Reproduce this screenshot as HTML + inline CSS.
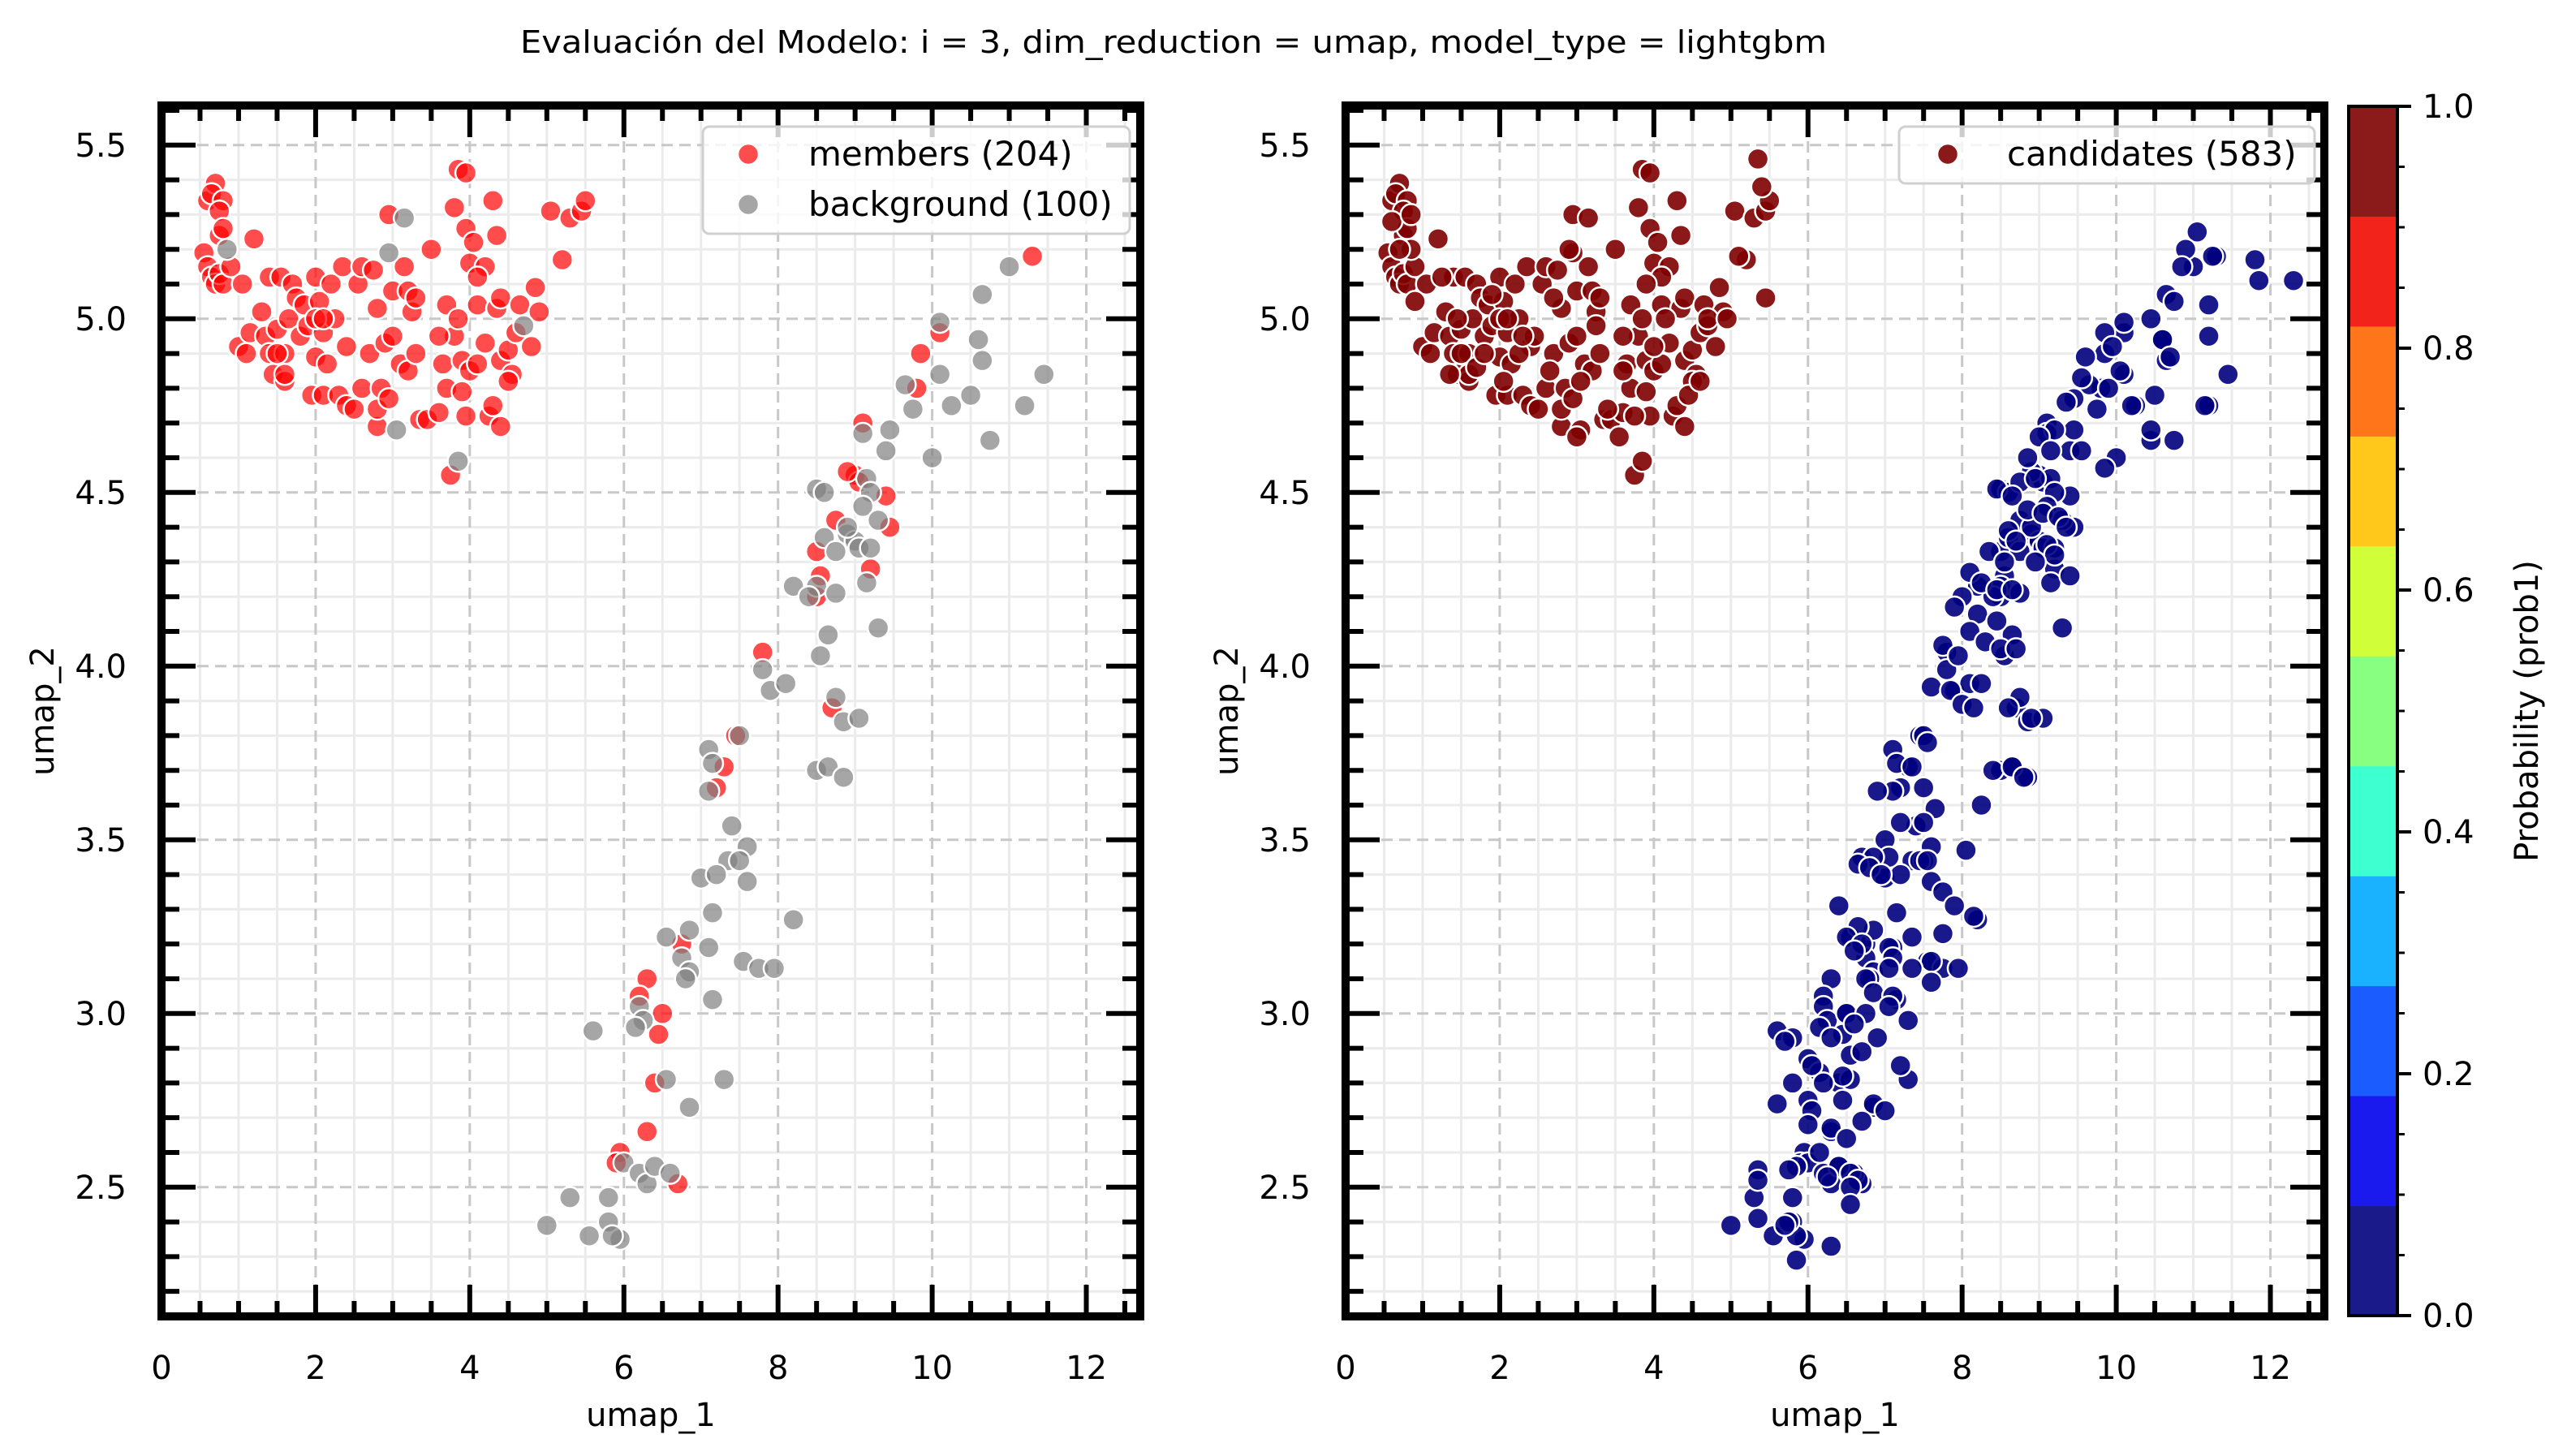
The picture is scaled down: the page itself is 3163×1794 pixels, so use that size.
<!DOCTYPE html>
<html><head><meta charset="utf-8">
<style>
html,body{margin:0;padding:0;background:#fff;}
svg{display:block;font-family:"DejaVu Sans","Liberation Sans",sans-serif;}
</style></head>
<body>
<svg id="fig" width="3163" height="1794" viewBox="0 0 3163 1794" xmlns="http://www.w3.org/2000/svg">
<rect width="3163" height="1794" fill="#fff"/>
<text x="1446" y="65" font-size="38" text-anchor="middle" textLength="1610" lengthAdjust="spacingAndGlyphs">Evaluación del Modelo: i = 3, dim_reduction = umap, model_type = lightgbm</text>
<g id="left"></g>
<g id="right"></g>
<g id="cbar"></g>
</svg>
<script>
// ---- data ----
const membersX = [0.55,0.6,0.7,0.65,0.8,0.75,0.6,0.65,0.7,0.75,0.8,0.75,0.8,0.9,1.0,1.05,1.2,1.15,1.1,1.3,1.35,1.4,1.4,1.45,1.5,1.55,1.6,1.6,1.65,1.7,1.75,1.8,1.85,1.9,1.95,2.0,2.0,2.05,2.1,2.1,2.15,2.2,2.25,2.3,2.35,2.4,2.4,2.5,2.55,2.6,2.6,2.7,2.75,2.8,2.8,2.8,2.85,2.9,2.95,2.95,3.0,3.0,3.1,3.15,3.2,3.2,3.25,3.3,3.3,3.35,3.45,3.5,3.6,3.65,3.7,3.7,3.75,3.8,3.8,3.85,3.85,3.9,3.9,3.95,3.95,4.0,4.0,4.05,4.1,4.1,4.2,4.2,4.25,4.3,4.3,4.35,4.35,4.4,4.4,4.4,4.5,4.55,4.6,4.65,4.8,4.85,4.9,5.05,5.2,5.3,5.45,5.5,3.95,4.1,2.0,2.1,1.5,1.6,3.6,4.5,
11.3,10.1,9.85,9.8,9.1,9.0,9.05,8.9,9.4,9.45,9.2,8.75,8.5,8.5,8.55,8.7,7.8,7.45,7.3,7.2,6.75,6.3,6.2,6.5,6.45,6.4,6.3,5.95,5.9,6.7];
const membersY = [5.19,5.34,5.39,5.36,5.34,5.31,5.15,5.12,5.1,5.13,5.1,5.24,5.26,5.15,4.92,5.1,5.23,4.96,4.9,5.02,4.95,4.9,5.12,4.84,4.97,5.12,4.82,4.9,5.0,5.1,5.06,4.95,5.04,4.98,4.78,5.12,4.89,5.05,4.78,4.96,4.87,5.1,5.0,4.78,5.15,4.75,4.92,4.74,5.1,5.15,4.8,4.9,5.14,4.69,4.74,5.03,4.8,4.93,5.3,4.77,5.08,4.95,4.87,5.15,5.08,4.85,5.02,4.9,5.06,4.71,4.71,5.2,4.73,4.87,5.04,4.8,4.55,4.95,5.32,5.0,5.43,4.88,4.79,5.26,4.72,4.85,5.16,5.22,5.04,4.87,4.93,5.15,4.72,5.34,4.75,5.03,5.24,5.06,4.69,4.88,4.91,4.84,4.96,5.04,4.92,5.09,5.02,5.31,5.17,5.29,5.31,5.34,5.42,5.12,5.0,5.0,4.9,4.84,4.95,4.82,
5.18,4.96,4.9,4.8,4.7,4.55,4.53,4.56,4.49,4.4,4.28,4.42,4.33,4.2,4.26,3.88,4.04,3.8,3.71,3.65,3.2,3.1,3.05,3.0,2.94,2.8,2.66,2.6,2.57,2.51];
const backgroundX = [0.85,2.95,3.15,3.05,3.85,4.7,11.0,10.65,10.1,10.6,10.1,10.65,9.65,9.75,10.25,10.5,11.2,11.45,10.75,10.0,9.1,9.45,9.4,8.5,8.6,9.15,9.2,9.1,9.3,8.6,8.9,9.0,9.05,9.2,8.75,8.9,8.5,8.2,8.4,9.15,8.75,9.3,8.65,8.55,7.8,7.9,8.1,8.75,8.85,9.05,8.5,8.65,8.85,7.5,7.1,7.15,7.1,7.4,7.6,7.35,7.5,7.6,7.0,7.2,7.15,8.2,7.1,6.55,6.85,6.75,6.85,7.55,7.75,7.95,6.8,7.15,6.2,6.25,6.15,5.6,6.55,7.3,6.85,6.0,6.2,6.3,6.4,6.6,5.3,5.8,5.0,5.55,5.8,5.95,5.85];
const backgroundY = [5.2,5.19,5.29,4.68,4.59,4.98,5.15,5.07,4.99,4.94,4.84,4.88,4.81,4.74,4.75,4.78,4.75,4.84,4.65,4.6,4.67,4.68,4.62,4.51,4.5,4.54,4.5,4.46,4.42,4.37,4.38,4.36,4.34,4.34,4.33,4.4,4.23,4.23,4.2,4.24,4.21,4.11,4.09,4.03,3.99,3.93,3.95,3.91,3.84,3.85,3.7,3.71,3.68,3.8,3.76,3.72,3.64,3.54,3.48,3.44,3.44,3.38,3.39,3.4,3.29,3.27,3.19,3.22,3.24,3.16,3.12,3.15,3.13,3.13,3.1,3.04,3.02,2.98,2.96,2.95,2.81,2.81,2.73,2.57,2.54,2.51,2.56,2.54,2.47,2.47,2.39,2.36,2.4,2.35,2.36];
const extraHighX = [0.6,0.7,0.85,1.25,1.45,1.7,1.9,2.05,2.25,2.45,2.65,2.9,3.05,3.25,3.4,3.55,3.75,3.9,4.15,4.45,4.7,4.95,5.1,5.35,5.45,0.9,1.8,2.7,3.6,4.6,2.3,3.0,5.4,4.0,1.35];
const extraHighY = [5.28,5.2,5.3,5.12,5.0,4.86,5.07,4.82,4.9,4.95,4.85,5.2,4.82,4.98,4.74,4.66,4.72,5.1,5.0,4.78,5.0,5.0,5.18,5.46,5.06,5.05,4.9,5.06,4.85,4.82,4.95,4.66,5.38,4.92,4.84];
const extraLowX = [11.05,10.9,11.25,11.8,11.85,12.3,10.85,11.2,10.75,11.2,10.6,10.7,10.45,9.85,9.95,10.05,9.9,9.6,9.55,9.45,9.35,10.2,11.15,10.45,10.45,9.85,9.55,9.2,9.0,9.15,8.85,8.75,8.95,8.45,8.65,8.85,9.05,9.25,9.35,8.6,8.7,9.1,9.2,8.35,8.55,8.95,9.4,8.1,8.25,8.45,8.65,8.0,8.2,8.45,7.9,8.1,8.3,8.5,8.7,7.75,7.95,7.6,7.85,8.25,8.0,8.15,8.6,8.9,7.55,7.35,8.4,8.65,8.8,6.9,7.5,8.25,7.65,7.2,7.5,7.0,7.05,6.7,6.85,7.45,7.55,8.05,6.65,6.8,6.95,7.75,6.4,7.9,8.15,6.65,6.5,6.7,7.75,7.35,6.6,7.05,7.1,7.6,7.35,7.05,6.75,7.6,6.85,7.1,6.5,6.75,7.05,6.6,7.3,5.8,5.7,6.0,6.3,6.55,6.9,6.15,6.7,6.05,6.45,7.2,5.8,6.2,6.45,6.85,7.0,5.6,6.0,6.05,6.0,6.7,6.3,6.5,6.15,5.85,5.75,6.4,6.55,6.65,6.25,6.55,5.35,5.35,6.55,5.35,5.75,5.7,6.3,5.85];
const extraLowY = [5.25,5.2,5.18,5.17,5.11,5.11,5.15,5.04,5.05,4.95,4.94,4.89,5.0,4.96,4.92,4.85,4.8,4.89,4.83,4.77,4.76,4.75,4.75,4.65,4.68,4.57,4.62,4.68,4.66,4.62,4.6,4.53,4.54,4.51,4.49,4.45,4.44,4.43,4.4,4.39,4.36,4.35,4.32,4.33,4.3,4.3,4.26,4.27,4.24,4.22,4.22,4.2,4.15,4.13,4.17,4.1,4.07,4.05,4.05,4.06,4.03,3.94,3.93,3.95,3.89,3.88,3.88,3.85,3.78,3.71,3.7,3.71,3.68,3.64,3.65,3.6,3.59,3.55,3.55,3.5,3.45,3.45,3.45,3.44,3.44,3.47,3.43,3.42,3.4,3.35,3.31,3.31,3.28,3.25,3.22,3.2,3.23,3.22,3.18,3.19,3.16,3.15,3.13,3.13,3.1,3.09,3.06,3.05,3.0,3.0,3.02,2.97,2.98,2.93,2.92,2.87,2.93,2.88,2.93,2.83,2.89,2.85,2.82,2.85,2.8,2.8,2.75,2.74,2.72,2.74,2.75,2.72,2.68,2.69,2.67,2.64,2.6,2.56,2.55,2.56,2.54,2.52,2.53,2.5,2.55,2.52,2.45,2.41,2.4,2.39,2.33,2.29];
const xTicks = [0,2,4,6,8,10,12];
const yTicks = [2.5,3.0,3.5,4.0,4.5,5.0,5.5];
const yTickLabels = ["2.5","3.0","3.5","4.0","4.5","5.0","5.5"];
const cbarTicks = [0,0.2,0.4,0.6,0.8,1.0];
const cbarTickLabels = ["0.0","0.2","0.4","0.6","0.8","1.0"];
const cbarColors = ["#1a1a8a","#1a1aee","#1a5cff","#1ab2ff","#3dffd0","#88ff80","#d0ff3a","#ffc81a","#ff7519","#f2231a","#8b1a1a"];

// ---- layout ----
const NS = "http://www.w3.org/2000/svg";
const XMIN = 0, XMAX = 12.7, YMIN = 2.128, YMAX = 5.614;
const TOP = 130, BOT = 1622;
const MR = 13;
const TFS = 40;
function mk(tag, attrs, parent){ const e=document.createElementNS(NS,tag); for(const k in attrs) e.setAttribute(k,attrs[k]); parent.appendChild(e); return e; }

function drawAxes(g, L, R){
  const sx = v => L + (v-XMIN)/(XMAX-XMIN)*(R-L);
  const sy = v => BOT - (v-YMIN)/(YMAX-YMIN)*(BOT-TOP);
  const grid = mk('g',{},g);
  
  
  for(let v=0.5; v<XMAX; v+=0.5){ if(Math.abs(v/2-Math.round(v/2))>1e-6) mk('line',{x1:sx(v),x2:sx(v),y1:TOP,y2:BOT,stroke:'#ebebeb','stroke-width':3},grid); }
  for(let i=22;i<=56;i++){ const v=i/10; if(i%5!==0) mk('line',{x1:L,x2:R,y1:sy(v),y2:sy(v),stroke:'#ebebeb','stroke-width':3},grid); }
  xTicks.forEach(v=>{ if(v>0) mk('line',{x1:sx(v),x2:sx(v),y1:TOP,y2:BOT,stroke:'#c8c8c8','stroke-width':3,'stroke-dasharray':'14 8'},grid); });
  yTicks.forEach(v=>mk('line',{x1:L,x2:R,y1:sy(v),y2:sy(v),stroke:'#c8c8c8','stroke-width':3,'stroke-dasharray':'14 8'},grid));
  return {sx,sy};
}
function drawFrame(g, L, R, sx, sy, ylabelX){
  const t = mk('g',{},g);
  
  
  for(let v=0.5; v<XMAX; v+=0.5){ const major = Math.abs(v/2-Math.round(v/2))<1e-6; const len = major?39:19;
    mk('line',{x1:sx(v),x2:sx(v),y1:BOT,y2:BOT-len,stroke:'#000','stroke-width':6},t);
    mk('line',{x1:sx(v),x2:sx(v),y1:TOP,y2:TOP+len,stroke:'#000','stroke-width':6},t); }
  for(let i=22;i<=56;i++){ const v=i/10; const major=i%5===0; const len=major?42:22;
    mk('line',{x1:L,x2:L+len,y1:sy(v),y2:sy(v),stroke:'#000','stroke-width':6},t);
    mk('line',{x1:R,x2:R-len,y1:sy(v),y2:sy(v),stroke:'#000','stroke-width':6},t); }
  const sp = mk('rect',{x:L,y:TOP,width:R-L,height:BOT-TOP,fill:'none',stroke:'#000','stroke-width':10},g);
  
  
  xTicks.forEach(v=>{ const tx=mk('text',{x:sx(v),y:1699,'font-size':TFS,'text-anchor':'middle'},g); tx.textContent=String(v);
    
     });
  yTicks.forEach((v,i)=>{ const tx=mk('text',{x:L-43,y:sy(v)+14,'font-size':TFS,'text-anchor':'end'},g); tx.textContent=yTickLabels[i];
    
     });
  const xl=mk('text',{x:(L+R)/2,y:1757,'font-size':40,'text-anchor':'middle'},g); xl.textContent='umap_1';
  
  
  const yl=mk('text',{x:0,y:0,'font-size':40,'text-anchor':'middle',transform:`translate(${ylabelX},876) rotate(-90)`},g); yl.textContent='umap_2';
  
  
}
function dots(g, xs, ys, sx, sy, color, op, name){
  const grp = mk('g',{},g);
  
  
  xs.forEach((x,i)=>{ const c=mk('circle',{cx:sx(x),cy:sy(ys[i]),r:MR,fill:color,'fill-opacity':op,stroke:'#fff','stroke-width':2.5},grp);
    
     });
}
function legendBox(g,x,y,w,h){ mk('rect',{x,y,width:w,height:h,rx:8,fill:'#fff','fill-opacity':0.8,stroke:'#d0d0d0','stroke-width':3},g); }

// ---- left panel ----
const gl = document.getElementById('left');
const A = drawAxes(gl, 199, 1405);
dots(gl, membersX, membersY, A.sx, A.sy, '#ff0000', 0.7, 'members-series');
dots(gl, backgroundX, backgroundY, A.sx, A.sy, '#808080', 0.7, 'background-series');
drawFrame(gl, 199, 1405, A.sx, A.sy, 66);
const lgL = mk('g',{},gl);


legendBox(lgL, 866, 156, 526, 132);
mk('circle',{cx:922,cy:190,r:MR,fill:'#ff0000','fill-opacity':0.7,stroke:'#fff','stroke-width':2.5},lgL);
mk('circle',{cx:922,cy:252,r:MR,fill:'#808080','fill-opacity':0.7,stroke:'#fff','stroke-width':2.5},lgL);
let t1=mk('text',{x:996,y:204,'font-size':42},lgL); t1.textContent='members (204)';


let t2=mk('text',{x:996,y:266,'font-size':42},lgL); t2.textContent='background (100)';



// ---- right panel ----
const gr = document.getElementById('right');
const B = drawAxes(gr, 1658, 2864);
const isHigh = (x,y)=> y>4.45 && x<6;
const hiX=[],hiY=[],loX=[],loY=[];
const allX = membersX.concat(backgroundX), allY = membersY.concat(backgroundY);
allX.forEach((x,i)=>{ const y=allY[i]; if(isHigh(x,y)){hiX.push(x);hiY.push(y);} else {loX.push(x);loY.push(y);} });
dots(gr, hiX.concat(extraHighX), hiY.concat(extraHighY), B.sx, B.sy, '#800000', 0.9, 'candidates-high-prob');
dots(gr, loX.concat(extraLowX), loY.concat(extraLowY), B.sx, B.sy, '#00007f', 0.9, 'candidates-low-prob');
drawFrame(gr, 1658, 2864, B.sx, B.sy, 1525);
const lgR = mk('g',{},gr);


legendBox(lgR, 2340, 156, 512, 70);
mk('circle',{cx:2400,cy:190,r:MR,fill:'#800000','fill-opacity':0.9,stroke:'#fff','stroke-width':2.5},lgR);
let t3=mk('text',{x:2473,y:204,'font-size':42},lgR); t3.textContent='candidates (583)';



// ---- colorbar ----
const gc = document.getElementById('cbar');
const CL=2894, CR=2954, CT=131, CB=1621;
const cy = v => CB - v*(CB-CT);
cbarColors.forEach((c,i)=>{ const r=mk('rect',{x:CL,y:cy((i+1)/11),width:CR-CL,height:cy(i/11)-cy((i+1)/11)+0.5,fill:c},gc);
  
   });
mk('rect',{x:CL,y:CT,width:CR-CL,height:CB-CT,fill:'none',stroke:'#000','stroke-width':4},gc);
for(let i=0;i<=20;i++){ const v=i/20; const major=i%4===0; mk('line',{x1:CR,x2:CR+(major?17:9),y1:cy(v),y2:cy(v),stroke:'#000','stroke-width':major?4:3},gc); }
cbarTicks.forEach((v,i)=>{ const tx=mk('text',{x:2985,y:cy(v)+14,'font-size':TFS},gc); tx.textContent=cbarTickLabels[i];
  
   });
const cl=mk('text',{x:0,y:0,'font-size':40,'text-anchor':'middle',transform:'translate(3127,876) rotate(-90)'},gc); cl.textContent='Probability (prob1)';


</script>
</body></html>
